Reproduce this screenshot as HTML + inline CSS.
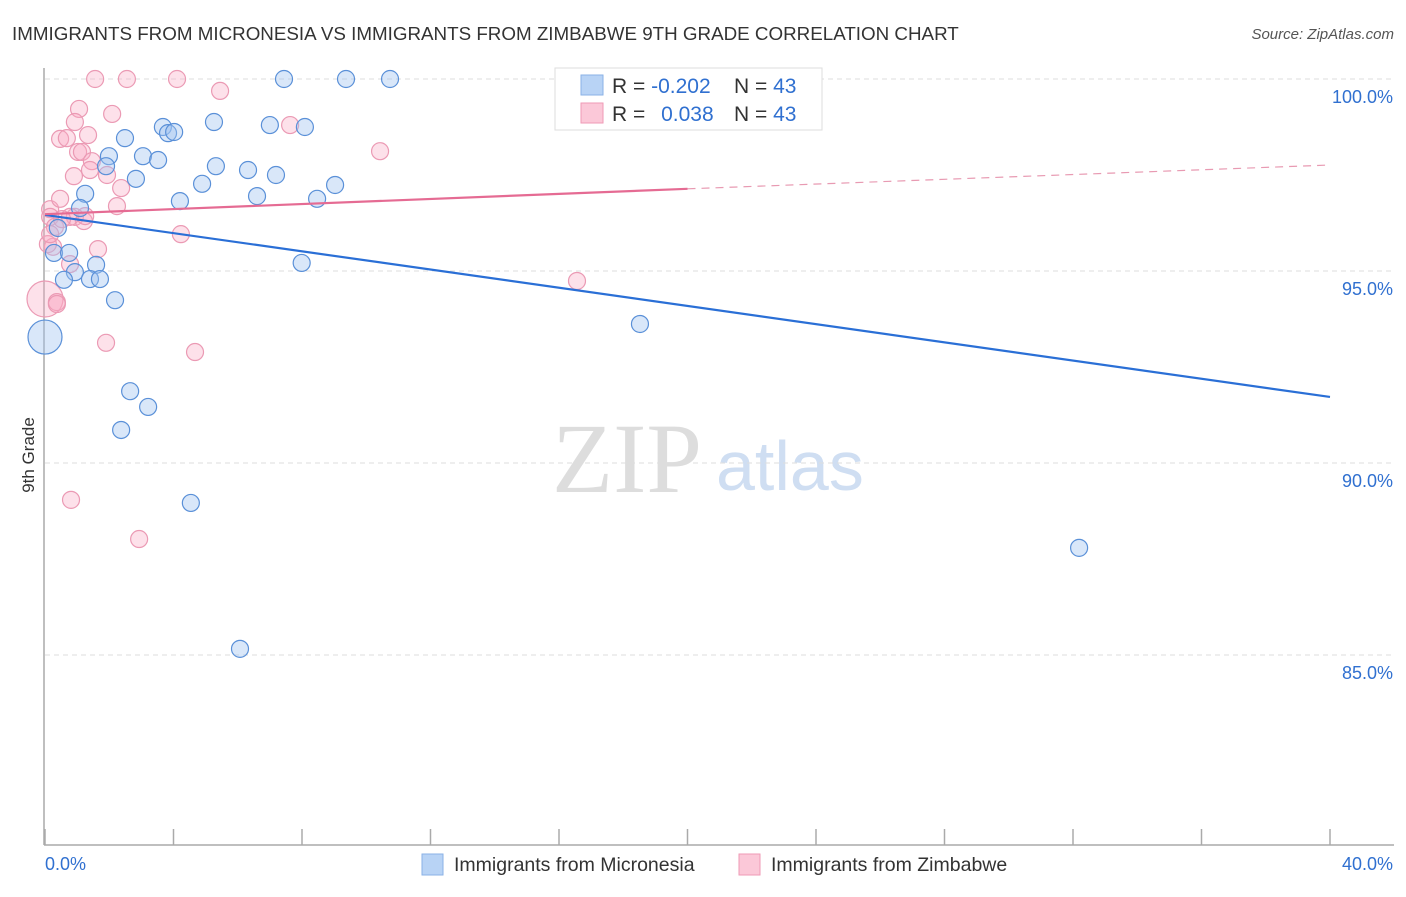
<!DOCTYPE html>
<html><head><meta charset="utf-8"><style>
body{margin:0;background:#fff;font-family:"Liberation Sans",sans-serif;}
svg text{font-family:"Liberation Sans",sans-serif;}
</style></head><body>
<svg id="chart" width="1406" height="892" xmlns="http://www.w3.org/2000/svg">
<text x="12" y="40" font-size="18.8" fill="#333">IMMIGRANTS FROM MICRONESIA VS IMMIGRANTS FROM ZIMBABWE 9TH GRADE CORRELATION CHART</text>
<text x="1394" y="39" font-size="15" fill="#555" text-anchor="end" font-style="italic">Source: ZipAtlas.com</text>
<text x="552" y="492" font-size="100" fill="#ddd" font-family="Liberation Serif" style="font-family:'Liberation Serif',serif">ZIP</text>
<text x="716" y="490" font-size="70" fill="#cfdef2">atlas</text>
<g id="grid"></g><g id="axes"></g><g id="pts"></g><g id="trend"></g>
<text transform="translate(34,455) rotate(-90)" font-size="17" fill="#333" text-anchor="middle">9th Grade</text>
<g>
<rect x="555" y="68" width="267" height="62" fill="#fff" stroke="#ddd"/>
<rect x="581" y="75" width="22" height="20" fill="#b8d3f5" stroke="#8ab1e6"/>
<rect x="581" y="103" width="22" height="20" fill="#fbc8d8" stroke="#ef9ab6"/>
<text x="612" y="93" font-size="21" fill="#333">R = <tspan fill="#3070d0">-0.202</tspan></text>
<text x="734" y="93" font-size="21" fill="#333">N = <tspan fill="#3070d0">43</tspan></text>
<text x="612" y="121" font-size="21" fill="#333">R = <tspan fill="#3070d0" dx="10">0.038</tspan></text>
<text x="734" y="121" font-size="21" fill="#333">N = <tspan fill="#3070d0">43</tspan></text>
</g>
<g>
<rect x="422" y="854" width="21" height="21" fill="#b8d3f5" stroke="#8ab1e6"/>
<text x="454" y="871" font-size="19.5" fill="#333">Immigrants from Micronesia</text>
<rect x="739" y="854" width="21" height="21" fill="#fbc8d8" stroke="#ef9ab6"/>
<text x="771" y="871" font-size="19.5" fill="#333">Immigrants from Zimbabwe</text>
</g>
</svg>
<script>
const blueX=[7.44,9.37,10.74,2.49,3.67,3.83,4.02,5.26,7.00,8.09,1.99,3.05,3.52,5.32,1.90,2.83,6.32,7.19,4.89,9.03,1.25,4.20,6.60,8.47,1.09,0.40,0.28,0.75,1.59,0.93,0.59,1.40,1.71,7.99,2.18,18.52,0.0,2.65,3.21,2.37,4.54,32.19,6.07];
const blueY=[100,100,100,98.46,98.75,98.59,98.62,98.88,98.80,98.75,97.99,97.99,97.89,97.73,97.73,97.40,97.63,97.50,97.27,97.24,97.01,96.82,96.95,96.88,96.64,96.12,95.47,95.47,95.16,94.97,94.77,94.79,94.79,95.21,94.24,93.62,93.28,91.87,91.46,90.86,88.96,87.79,85.16];
const pinkX=[1.56,2.55,4.11,5.45,1.06,2.09,0.93,7.63,0.47,0.68,1.34,1.03,1.15,1.46,1.40,10.43,0.90,2.37,1.93,2.24,0.16,0.47,4.23,0.93,1.21,0.78,0.25,1.65,0.78,0.0,0.37,0.37,1.90,4.67,0.81,2.93,16.56,0.16,0.31,0.53,1.25,0.09,0.16];
const pinkY=[100,100,100,99.69,99.22,99.09,98.88,98.80,98.44,98.46,98.54,98.10,98.10,97.86,97.63,98.12,97.47,97.16,97.50,96.69,96.61,96.88,95.96,96.41,96.30,96.41,95.63,95.57,95.18,94.27,94.19,94.14,93.13,92.89,89.04,88.02,94.74,96.41,96.15,96.35,96.43,95.70,95.96];
const blueR=blueX.map((v,i)=>i==36?17:8.5);
const pinkR=pinkX.map((v,i)=>i==29?18:8.5);
const yTicks=[100,95,90,85];
const yTickLabels=["100.0%","95.0%","90.0%","85.0%"];
const blueTrend=[96.46,91.72];
const pinkTrend=[96.48,97.14,97.76];
const NS="http://www.w3.org/2000/svg";
const sx=v=>45+v*32.125, sy=v=>79+(100-v)*38.4;
function mk(tag,attrs,parent){const e=document.createElementNS(NS,tag);for(const k in attrs)e.setAttribute(k,attrs[k]);document.getElementById(parent).appendChild(e);return e;}
yTicks.forEach((t,i)=>{
 const l=mk('line',{x1:45,x2:1394,y1:sy(t),y2:sy(t),stroke:'#ddd','stroke-dasharray':'5,4'},'grid');
 
 
 const tx=mk('text',{x:1393,y:sy(t)+24,'font-size':18,fill:'#3070d0','text-anchor':'end'},'grid');tx.textContent=yTickLabels[i];
 
 
});
const ax=mk('line',{x1:44,x2:44,y1:68,y2:845,stroke:'#aaa','stroke-width':1.5},'axes');


const bx=mk('line',{x1:44,x2:1394,y1:845,y2:845,stroke:'#aaa','stroke-width':1.5},'axes');


for(let i=0;i<=10;i++){const t=mk('line',{x1:sx(i*4),x2:sx(i*4),y1:829,y2:845,stroke:'#aaa','stroke-width':1.5},'axes');
 
 }
const l0=mk('text',{x:45,y:870,'font-size':18,fill:'#3070d0'},'axes');l0.textContent='0.0%';


const l1=mk('text',{x:1393,y:870,'font-size':18,fill:'#3070d0','text-anchor':'end'},'axes');l1.textContent='40.0%';


pinkX.forEach((v,i)=>{const c=mk('circle',{cx:sx(v),cy:sy(pinkY[i]),r:pinkR[i],fill:'rgba(248,170,196,0.35)',stroke:'#eb9ab4','stroke-width':1.2},'pts');
 
 });
blueX.forEach((v,i)=>{const c=mk('circle',{cx:sx(v),cy:sy(blueY[i]),r:blueR[i],fill:'rgba(160,196,240,0.4)',stroke:'#5a90d8','stroke-width':1.2},'pts');
 
 });
const bt=mk('line',{x1:sx(0),y1:sy(blueTrend[0]),x2:sx(40),y2:sy(blueTrend[1]),stroke:'#2a6fd6','stroke-width':2.2},'trend');


const pt=mk('line',{x1:sx(0),y1:sy(pinkTrend[0]),x2:sx(20),y2:sy(pinkTrend[1]),stroke:'#e56b93','stroke-width':2.2},'trend');


const pd=mk('line',{x1:sx(20),y1:sy(pinkTrend[1]),x2:sx(40),y2:sy(pinkTrend[2]),stroke:'#e89ab2','stroke-width':1.2,'stroke-dasharray':'8,6'},'trend');


</script>
</body></html>
